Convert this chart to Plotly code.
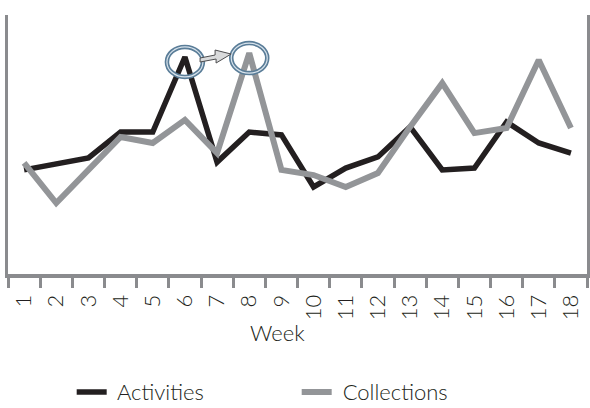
import plotly.graph_objects as go

weeks = [str(i) for i in range(1, 19)]
activities = [40.2, 42.5, 44.8, 54.8, 54.8, 83.8, 43.2, 54.8, 53.7, 33.6, 40.9, 45.2, 56.8, 40.2, 40.9, 58.7, 50.6, 46.7]
collections = [42.9, 27.4, 40.2, 52.9, 50.6, 59.5, 46.7, 85.3, 40.2, 38.2, 33.6, 39.0, 56.8, 73.7, 54.4, 56.4, 82.6, 56.4]

AXIS_GRAY = "#8a8b8e"
TEXT = "#231f20"
FONT = "Lato"

fig = go.Figure()
fig.add_trace(go.Scatter(x=weeks, y=activities, mode="lines", name=" Activities",
                         line=dict(color="#231f20", width=5.5)))
fig.add_trace(go.Scatter(x=weeks, y=collections, mode="lines", name=" Collections",
                         line=dict(color="#939598", width=6)))

# highlight circles at the two peaks (numeric category index)
i_act = activities.index(max(activities))
i_col = collections.index(max(collections))
for xi, yi in [(i_act, activities[i_act]), (i_col, collections[i_col])]:
    for w, c in [(4.5, "#5a7d98"), (1.2, "#d8e3ec")]:
        fig.add_shape(type="circle", xref="x", yref="y", xsizemode="pixel", ysizemode="pixel",
                      xanchor=xi, yanchor=yi, x0=-18, x1=18, y0=-20, y1=10,
                      line=dict(color=c, width=w), fillcolor="rgba(0,0,0,0)")

# arrow between the peaks (anchored midway)
mid_x = (i_act + i_col) / 2
mid_y = (activities[i_act] + collections[i_col]) / 2
fig.add_shape(type="path", xref="x", yref="y", xsizemode="pixel", ysizemode="pixel",
              xanchor=mid_x, yanchor=mid_y,
              path="M -17,-3 L -2,0 L -2,5 L 14,1 L -1,-8 L -1,-4 L -17,-7 Z",
              fillcolor="#d9dadb", line=dict(color="#4d4d4f", width=1))

fig.add_annotation(text="Week", xref="paper", yref="paper", x=0.465, y=-0.225,
                   xanchor="center", yanchor="middle", showarrow=False,
                   font=dict(size=22, family=FONT, color=TEXT, weight=300))

fig.update_layout(
    width=590, height=408,
    margin=dict(l=8, r=3, t=15, b=134, autoexpand=False),
    paper_bgcolor="white", plot_bgcolor="white",
    font=dict(family=FONT, color=TEXT, size=22, weight=300),
    showlegend=True,
    legend=dict(orientation="h", x=0.11, xanchor="left", y=-0.537, yanchor="bottom",
                font=dict(size=22, family=FONT, color=TEXT, weight=300), entrywidth=180,
                bgcolor="rgba(0,0,0,0)", borderwidth=0),
    xaxis=dict(type="category", tickson="boundaries", ticks="outside", ticklen=10,
               tickwidth=3, tickcolor=AXIS_GRAY, showline=True, linecolor=AXIS_GRAY,
               linewidth=4, showgrid=False, zeroline=False, tickangle=-90,
               ticklabelstandoff=8,
               tickfont=dict(size=22, family=FONT, color=TEXT, weight=300),
               range=[-0.5, 17.5]),
    yaxis=dict(range=[0, 100], showticklabels=False, ticks="", showgrid=False, zeroline=False,
               showline=True, linecolor=AXIS_GRAY, linewidth=3, mirror=True),
)

fig.write_html("out.html")
